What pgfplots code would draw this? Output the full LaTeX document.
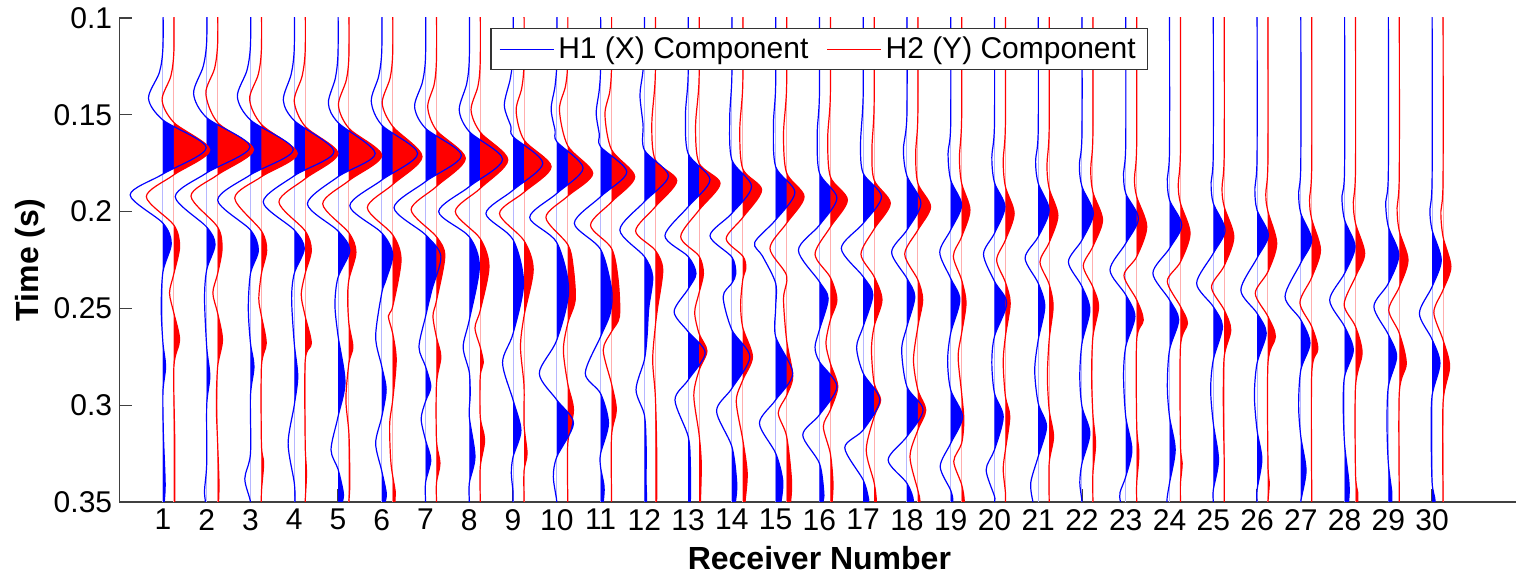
\documentclass[border=0pt]{standalone}
\usepackage{fontspec}
\setmainfont{Liberation Sans}
\usepackage{pgfplots}
\usepackage{pgfplotstable}
\pgfplotsset{compat=1.18}

% positive lobes filled, clipped to the right of the trace's zero line
\newcommand\wfill[3]{%
  \begin{scope}
    \clip (axis cs:#1,-0.05) rectangle (axis cs:40,-0.4);
    \addplot[draw=none, fill=#3, smooth, forget plot]
      table[x expr=\thisrow{a}+#1, y expr=-\thisrow{t}] {#2};
  \end{scope}}
\newcommand\wline[3]{%
  \addplot[#3, line width=0.6pt, smooth, forget plot]
    table[x expr=\thisrow{a}+#1, y expr=-\thisrow{t}] {#2};}

% ---------- H1 (blue) traces: amplitude a, time t ----------
\pgfplotstableread{
a t
0 0.09
0 0.115
-0.08 0.128
-0.33 0.1415
0 0.1527
0.99 0.1670
0 0.1806
-0.75 0.1914
0 0.2060
0.19 0.2164
0 0.2310
-0.04 0.2500
0 0.2680
0.06 0.2800
0 0.2930
0.01 0.3150
0.05 0.3400
0.03 0.3500
0 0.36
}\TBa
\pgfplotstableread{
a t
0 0.09
0 0.112
-0.08 0.125
-0.30 0.1390
0 0.1515
0.99 0.1665
0 0.1800
-0.72 0.1923
0 0.2080
0.19 0.2170
0 0.2300
-0.05 0.2450
0 0.2700
0.07 0.2850
0 0.3000
0 0.3300
-0.05 0.3440
-0.03 0.3500
0 0.36
}\TBb
\pgfplotstableread{
a t
0 0.09
0 0.114
-0.08 0.127
-0.30 0.1406
0 0.1527
0.98 0.1680
0 0.1810
-0.75 0.1940
0 0.2095
0.18 0.2200
0 0.2320
-0.05 0.2500
0 0.2680
0.08 0.2800
0 0.2950
0 0.3250
-0.13 0.3380
0 0.3500
0 0.36
}\TBc
\pgfplotstableread{
a t
0 0.09
0 0.116
-0.07 0.129
-0.25 0.1424
0 0.1530
0.91 0.1690
0 0.1815
-0.71 0.1950
0 0.2095
0.23 0.2190
0 0.2320
-0.06 0.2450
0 0.2680
0.08 0.2850
0 0.3000
-0.14 0.3198
0 0.3400
0.02 0.3500
0 0.36
}\TBd
\pgfplotstableread{
a t
0 0.09
0 0.118
-0.06 0.131
-0.22 0.1440
0 0.1540
0.85 0.1700
0 0.1820
-0.70 0.1960
0 0.2100
0.27 0.2200
0 0.2340
-0.07 0.2480
0 0.2640
0.16 0.2880
0 0.3060
-0.16 0.3230
0 0.3330
0.12 0.3450
0.10 0.3500
0 0.36
}\TBe
\pgfplotstableread{
a t
0 0.09
0 0.117
-0.07 0.130
-0.24 0.1430
0 0.1553
0.82 0.1700
0 0.1837
-0.73 0.1970
0 0.2110
0.25 0.2220
0.10 0.2350
0 0.2420
-0.14 0.2646
0 0.2800
0.10 0.2920
0 0.3060
-0.14 0.3197
0 0.3340
0.10 0.3450
0.08 0.3500
0 0.36
}\TBf
\pgfplotstableread{
a t
0 0.09
0 0.120
-0.07 0.133
-0.25 0.1458
0 0.1570
0.82 0.1710
0 0.1845
-0.72 0.1980
0 0.2120
0.35 0.2230
0.15 0.2400
0 0.2542
-0.15 0.2700
0 0.2800
0.12 0.2904
0 0.2980
-0.10 0.3070
0 0.3180
0.12 0.3283
0 0.3400
0 0.3500
0 0.36
}\TBg
\pgfplotstableread{
a t
0 0.09
0 0.121
-0.06 0.134
-0.23 0.1475
0 0.1587
0.76 0.1730
0 0.1871
-0.70 0.2000
0 0.2130
0.23 0.2284
0 0.2560
-0.14 0.2700
0 0.2830
0.02 0.2950
0 0.3060
0.13 0.3265
0 0.3403
0 0.3500
0 0.36
}\TBh
\pgfplotstableread{
a t
0 0.09
0 0.118
-0.06 0.131
-0.20 0.1450
-0.05 0.1560
0 0.1613
0.68 0.1750
0 0.1889
-0.62 0.2010
0 0.2145
0.24 0.2370
0 0.2630
-0.24 0.2780
0 0.2973
0.18 0.3130
0 0.3267
-0.04 0.3350
0 0.3450
0 0.3500
0 0.36
}\TBi
\pgfplotstableread{
a t
0 0.09
0 0.122
-0.04 0.135
-0.13 0.1470
-0.04 0.1580
0 0.1639
0.60 0.1775
0 0.1906
-0.62 0.2030
0 0.2160
0.27 0.2405
0 0.2663
-0.40 0.2835
0 0.2973
0.38 0.3093
0 0.3267
-0.08 0.3370
0 0.3500
0 0.36
}\TBj
\pgfplotstableread{
a t
0 0.09
0 0.125
-0.03 0.137
-0.10 0.1490
-0.03 0.1600
0 0.1665
0.60 0.1795
0 0.1923
-0.60 0.2060
0 0.2195
0.25 0.2400
0.22 0.2525
0 0.2646
-0.35 0.2835
0 0.2940
0.18 0.3093
0 0.3250
0 0.3320
0.08 0.3420
0.06 0.3500
0 0.36
}\TBk
\pgfplotstableread{
a t
0 0.09
0 0.118
-0.04 0.129
-0.10 0.1400
-0.03 0.1550
0 0.1682
0.55 0.1815
0 0.1949
-0.56 0.2095
0 0.2232
0.19 0.2336
0.10 0.2500
0.06 0.2650
0 0.2766
-0.19 0.2920
0 0.3050
0.04 0.3200
0.04 0.3400
0.05 0.3500
0 0.36
}\TBl
\pgfplotstableread{
a t
0 0.09
0 0.130
-0.06 0.150
0 0.1700
0.50 0.1835
0 0.1975
-0.53 0.2125
0 0.2232
0.18 0.2320
0 0.2400
-0.32 0.2517
0 0.2620
0.39 0.2730
0 0.2870
-0.30 0.2973
0 0.3160
0.05 0.3300
0.05 0.3500
0 0.36
}\TBm
\pgfplotstableread{
a t
0 0.09
0 0.130
-0.05 0.152
0 0.1733
0.45 0.1870
0 0.2009
-0.50 0.2125
0 0.2235
0.09 0.2320
0 0.2370
-0.20 0.2440
0 0.2611
0.41 0.2750
0 0.2913
-0.35 0.3030
0 0.3214
0.11 0.3400
0.08 0.3500
0 0.36
}\TBn
\pgfplotstableread{
a t
0 0.09
0 0.135
-0.05 0.155
0 0.1768
0.44 0.1900
0 0.2043
-0.48 0.2160
-0.30 0.2230
0 0.2370
0 0.2500
0 0.2646
0.39 0.2835
0 0.2973
-0.37 0.3093
0 0.3248
0.16 0.3386
0.12 0.3500
0 0.36
}\TBo
\pgfplotstableread{
a t
0 0.09
0 0.140
-0.05 0.160
0 0.1800
0.40 0.1930
0 0.2070
-0.48 0.2200
0 0.2362
0.20 0.2450
0 0.2611
-0.10 0.2700
0 0.2775
0.40 0.2904
0 0.3050
-0.38 0.3154
0 0.3300
0.10 0.3450
0.08 0.3500
0 0.36
}\TBp
\pgfplotstableread{
a t
0 0.09
0 0.140
-0.06 0.165
0 0.1802
0.42 0.1923
0 0.2061
-0.50 0.2190
0 0.2336
0.22 0.2430
0 0.2594
-0.15 0.2700
0 0.2835
0.38 0.2973
0 0.3128
-0.42 0.3220
0 0.3386
0.12 0.3480
0.11 0.3500
0 0.36
}\TBq
\pgfplotstableread{
a t
0 0.09
0 0.150
-0.08 0.168
0 0.1815
0.32 0.1957
0 0.2095
-0.35 0.2210
0 0.2345
0.18 0.2440
0 0.2594
-0.12 0.2715
0 0.2904
0.37 0.3024
0 0.3162
-0.43 0.3283
0 0.3403
0.15 0.3500
0 0.36
}\TBr
\pgfplotstableread{
a t
0 0.09
0 0.155
-0.06 0.170
0 0.1837
0.25 0.1966
0 0.2095
-0.25 0.2210
0 0.2345
0.21 0.2456
0 0.2628
-0.07 0.2770
0 0.2921
0.27 0.3060
0 0.3197
-0.24 0.3317
0 0.3440
0.05 0.3500
0 0.36
}\TBs
\pgfplotstableread{
a t
0 0.09
0 0.155
-0.06 0.172
0 0.1850
0.24 0.1975
0 0.2112
-0.25 0.2220
0 0.2360
0.28 0.2473
0 0.2645
-0.06 0.2780
0 0.2938
0.20 0.3060
0 0.3231
-0.19 0.3334
0 0.3470
0 0.3500
0 0.36
}\TBt
\pgfplotstableread{
a t
0 0.09
0 0.158
-0.06 0.174
0 0.1854
0.25 0.1992
0 0.2130
-0.30 0.2240
0 0.2370
0.15 0.2490
0 0.2663
-0.08 0.2820
0 0.2990
0.19 0.3110
0 0.3265
-0.17 0.3400
-0.12 0.3500
0 0.36
}\TBu
\pgfplotstableread{
a t
0 0.09
0 0.160
-0.06 0.176
0 0.1871
0.26 0.2009
0 0.2147
-0.31 0.2260
0 0.2387
0.18 0.2508
0 0.2680
-0.05 0.2850
0 0.3007
0.18 0.3145
0 0.3300
-0.05 0.3400
0 0.3500
0 0.36
}\TBv
\pgfplotstableread{
a t
0 0.09
0 0.165
-0.05 0.180
0 0.1906
0.29 0.2035
0 0.2164
-0.36 0.2301
0 0.2430
0.21 0.2542
0 0.2697
-0.05 0.2850
0 0.3059
0.14 0.3230
0 0.3369
-0.13 0.3450
-0.12 0.3500
0 0.36
}\TBw
\pgfplotstableread{
a t
0 0.09
0 0.168
-0.05 0.183
0 0.1940
0.28 0.2069
0 0.2190
-0.38 0.2318
0 0.2456
0.21 0.2559
0 0.2715
-0.05 0.2900
0 0.3059
0.13 0.3230
0 0.3403
-0.06 0.3500
0 0.36
}\TBx
\pgfplotstableread{
a t
0 0.09
0 0.170
-0.05 0.185
0 0.1957
0.27 0.2095
0 0.2216
-0.38 0.2370
0 0.2491
0.21 0.2594
0 0.2766
-0.06 0.2920
0 0.3093
0.12 0.3283
0 0.3438
0 0.3500
0 0.36
}\TBy
\pgfplotstableread{
a t
0 0.09
0 0.172
-0.05 0.188
0 0.1992
0.26 0.2121
0 0.2240
-0.37 0.2405
0 0.2525
0.21 0.2628
0 0.2783
-0.06 0.2950
0 0.3128
0.11 0.3280
0 0.3438
0 0.3500
0 0.36
}\TBz
\pgfplotstableread{
a t
0 0.09
0 0.175
-0.05 0.190
0 0.2009
0.25 0.2147
0 0.2265
-0.36 0.2439
0 0.2559
0.21 0.2680
0 0.2818
-0.05 0.3000
0 0.3162
0.12 0.3334
0.02 0.3472
0 0.3500
0 0.36
}\TBaa
\pgfplotstableread{
a t
0 0.09
0 0.178
-0.06 0.192
0 0.2043
0.24 0.2181
0 0.2319
-0.34 0.2457
0 0.2594
0.20 0.2715
0 0.2852
-0.03 0.3000
0 0.3200
0.10 0.3400
0.09 0.3500
0 0.36
}\TBab
\pgfplotstableread{
a t
0 0.09
0 0.180
-0.06 0.195
0 0.2078
0.24 0.2224
0 0.2371
-0.33 0.2491
0 0.2635
0.19 0.2749
0 0.2904
-0.03 0.3100
0 0.3300
0.08 0.3450
0.08 0.3500
0 0.36
}\TBac
\pgfplotstableread{
a t
0 0.09
0 0.183
-0.05 0.199
0 0.2095
0.21 0.2250
0 0.2388
-0.29 0.2526
0 0.2660
0.18 0.2784
0 0.2950
-0.02 0.3150
0 0.3400
0.07 0.3500
0 0.36
}\TBad

% ---------- H2 (red) traces ----------
\pgfplotstableread{
a t
0 0.09
0 0.117
-0.07 0.130
-0.27 0.1424
0 0.1540
0.82 0.1682
0 0.1810
-0.63 0.1923
0 0.2070
0.13 0.2180
0 0.2320
-0.10 0.2420
0 0.2525
0.13 0.2663
0 0.2800
0.02 0.3200
0.02 0.3500
0 0.36
}\TRa
\pgfplotstableread{
a t
0 0.09
0 0.113
-0.07 0.126
-0.27 0.1390
0 0.1540
0.82 0.1680
0 0.1810
-0.61 0.1920
0 0.2080
0.10 0.2190
0 0.2320
-0.11 0.2420
0 0.2525
0.11 0.2663
0 0.2800
-0.03 0.3000
0 0.3200
0.03 0.3400
0.02 0.3500
0 0.36
}\TRb
\pgfplotstableread{
a t
0 0.09
0 0.116
-0.07 0.129
-0.27 0.1420
0 0.1550
0.82 0.1700
0 0.1820
-0.61 0.1930
0 0.2100
0.12 0.2200
0 0.2320
-0.06 0.2450
0 0.2540
0.11 0.2680
0 0.2800
0 0.3200
0.05 0.3300
0 0.3450
0 0.36
}\TRc
\pgfplotstableread{
a t
0 0.09
0 0.117
-0.07 0.130
-0.25 0.1430
0 0.1560
0.75 0.1700
0 0.1830
-0.60 0.1950
0 0.2100
0.14 0.2200
0 0.2320
-0.09 0.2430
0 0.2540
0.14 0.2680
0 0.2770
0 0.3200
0.03 0.3350
0 0.3500
0 0.36
}\TRd
\pgfplotstableread{
a t
0 0.09
0 0.119
-0.06 0.132
-0.24 0.1450
0 0.1570
0.75 0.1710
0 0.1840
-0.60 0.1960
0 0.2110
0.16 0.2210
0 0.2350
-0.03 0.2450
0 0.2580
0.09 0.2700
0 0.2780
-0.07 0.2970
0 0.3150
0.02 0.3400
0 0.3500
0 0.36
}\TRe
\pgfplotstableread{
a t
0 0.09
0 0.118
-0.06 0.131
-0.24 0.1440
0 0.1560
0.67 0.1716
0 0.1860
-0.58 0.1980
0 0.2120
0.19 0.2250
0 0.2490
-0.10 0.2540
0 0.2630
0.08 0.2766
0 0.2973
-0.07 0.3100
-0.04 0.3300
0.06 0.3450
0.05 0.3500
0 0.36
}\TRf
\pgfplotstableread{
a t
0 0.09
0 0.121
-0.05 0.134
-0.20 0.1460
0 0.1580
0.66 0.1725
0 0.1870
-0.58 0.1990
0 0.2130
0.19 0.2230
0 0.2460
-0.08 0.2540
0 0.2650
0.10 0.2750
0 0.2890
0 0.3180
0.08 0.3300
0 0.3400
0 0.3500
0 0.36
}\TRg
\pgfplotstableread{
a t
0 0.09
0 0.122
-0.05 0.135
-0.21 0.1475
0 0.1590
0.63 0.1733
0 0.1880
-0.57 0.2000
0 0.2140
0.20 0.2284
0 0.2510
-0.12 0.2600
0 0.2700
0.07 0.2780
0 0.2850
0 0.3060
0.10 0.3180
0 0.3320
0 0.3500
0 0.36
}\TRh
\pgfplotstableread{
a t
0 0.09
0 0.123
-0.05 0.136
-0.18 0.1480
0 0.1630
0.62 0.1768
0 0.1900
-0.56 0.2010
0 0.2150
0.21 0.2300
0 0.2540
-0.08 0.2700
0 0.2900
0 0.3100
0.07 0.3250
0 0.3340
0 0.3500
0 0.36
}\TRi
\pgfplotstableread{
a t
0 0.09
0 0.122
-0.05 0.135
-0.19 0.1475
0 0.1660
0.57 0.1802
0 0.1920
-0.50 0.2030
0 0.2170
0.12 0.2280
0.17 0.2456
0 0.2577
-0.10 0.2715
0 0.2890
0.13 0.3025
0 0.3200
0 0.3500
0 0.36
}\TRj
\pgfplotstableread{
a t
0 0.09
0 0.125
-0.04 0.138
-0.15 0.1500
0 0.1680
0.53 0.1820
0 0.1950
-0.48 0.2070
0 0.2190
0.15 0.2350
0.18 0.2542
0 0.2620
-0.19 0.2715
0 0.2890
0.11 0.3025
0 0.3160
0 0.3500
0 0.36
}\TRk
\pgfplotstableread{
a t
0 0.09
0 0.130
-0.08 0.155
0 0.1733
0.49 0.1840
0 0.1975
-0.45 0.2100
0 0.2200
0.17 0.2300
0.05 0.2500
0 0.2594
-0.06 0.2766
0 0.2950
0.03 0.3200
0.03 0.3500
0 0.36
}\TRl
\pgfplotstableread{
a t
0 0.09
0 0.132
-0.08 0.156
0 0.1750
0.48 0.1854
0 0.1992
-0.42 0.2130
0 0.2230
0.10 0.2320
0 0.2420
-0.10 0.2520
0 0.2630
0.18 0.2720
0 0.2820
-0.12 0.2950
0 0.3150
0.05 0.3300
0.03 0.3500
0 0.36
}\TRm
\pgfplotstableread{
a t
0 0.09
0 0.134
-0.07 0.158
0 0.1780
0.43 0.1888
0 0.2030
-0.38 0.2140
0 0.2230
0.07 0.2290
0 0.2350
-0.05 0.2480
0 0.2600
0.22 0.2750
0 0.2870
-0.15 0.2980
0 0.3180
0.10 0.3350
0.05 0.3500
0 0.36
}\TRn
\pgfplotstableread{
a t
0 0.09
0 0.136
-0.07 0.160
0 0.1800
0.40 0.1923
0 0.2060
-0.38 0.2190
0 0.2330
-0.07 0.2450
0 0.2663
0.14 0.2850
0 0.2950
-0.19 0.3040
0 0.3160
0.11 0.3380
0.09 0.3500
0 0.36
}\TRo
\pgfplotstableread{
a t
0 0.09
0 0.140
-0.06 0.162
0 0.1820
0.39 0.1940
0 0.2080
-0.35 0.2220
0 0.2340
0.15 0.2456
0 0.2560
-0.10 0.2680
0 0.2784
0.17 0.2904
0 0.3025
-0.16 0.3110
0 0.3250
0.06 0.3400
0.04 0.3500
0 0.36
}\TRp
\pgfplotstableread{
a t
0 0.09
0 0.145
-0.05 0.168
0 0.1837
0.37 0.1957
0 0.2090
-0.30 0.2220
0 0.2336
0.18 0.2456
0 0.2594
-0.06 0.2715
0 0.2887
0.15 0.2973
0 0.3060
-0.18 0.3232
0 0.3400
0.05 0.3500
0 0.36
}\TRq
\pgfplotstableread{
a t
0 0.09
0 0.150
-0.05 0.170
0 0.1854
0.29 0.1975
0 0.2095
-0.30 0.2220
0 0.2353
0.11 0.2456
0 0.2594
-0.10 0.2766
0 0.2921
0.18 0.3025
0 0.3128
-0.18 0.3266
0 0.3440
0.05 0.3500
0 0.36
}\TRr
\pgfplotstableread{
a t
0 0.09
0 0.152
-0.05 0.172
0 0.1854
0.19 0.1992
0 0.2130
-0.19 0.2230
0 0.2353
0.10 0.2473
0 0.2628
-0.08 0.2750
0 0.2938
0.05 0.3076
0 0.3197
-0.18 0.3290
0 0.3410
0.06 0.3500
0 0.36
}\TRs
\pgfplotstableread{
a t
0 0.09
0 0.155
-0.05 0.174
0 0.1871
0.20 0.2009
0 0.2147
-0.20 0.2250
0 0.2365
0.11 0.2473
0 0.2645
-0.05 0.2780
0 0.2955
0.10 0.3059
0 0.3231
-0.05 0.3330
0 0.3450
0 0.3500
0 0.36
}\TRt
\pgfplotstableread{
a t
0 0.09
0 0.157
-0.05 0.176
0 0.1880
0.20 0.2020
0 0.2160
-0.21 0.2260
0 0.2375
0.09 0.2490
0 0.2663
-0.04 0.2850
0 0.3024
0.10 0.3162
0 0.3300
0 0.3500
0 0.36
}\TRu
\pgfplotstableread{
a t
0 0.09
0 0.160
-0.05 0.178
0 0.1900
0.22 0.2043
0 0.2180
-0.22 0.2280
0 0.2390
0.13 0.2490
0 0.2646
-0.03 0.2850
0 0.3050
0.06 0.3200
0 0.3350
0 0.3500
0 0.36
}\TRv
\pgfplotstableread{
a t
0 0.09
0 0.165
-0.05 0.183
0 0.1923
0.23 0.2078
0 0.2233
-0.29 0.2330
0 0.2456
0.15 0.2560
0 0.2663
0 0.3100
0.05 0.3250
0 0.3403
0 0.3500
0 0.36
}\TRw
\pgfplotstableread{
a t
0 0.09
0 0.168
-0.05 0.186
0 0.1957
0.22 0.2112
0 0.2260
-0.30 0.2360
0 0.2490
0.16 0.2577
0 0.2697
0 0.3197
0.04 0.3300
0 0.3403
0 0.3500
0 0.36
}\TRx
\pgfplotstableread{
a t
0 0.09
0 0.170
-0.05 0.188
0 0.1975
0.22 0.2130
0 0.2280
-0.29 0.2390
0 0.2508
0.15 0.2611
0 0.2749
-0.02 0.3000
0 0.3300
0 0.3500
0 0.36
}\TRy
\pgfplotstableread{
a t
0 0.09
0 0.173
-0.05 0.191
0 0.2000
0.20 0.2164
0 0.2310
-0.29 0.2422
0 0.2542
0.17 0.2646
0 0.2783
0 0.3300
0.03 0.3400
0 0.3500
0 0.36
}\TRz
\pgfplotstableread{
a t
0 0.09
0 0.176
-0.05 0.194
0 0.2040
0.20 0.2198
0 0.2340
-0.27 0.2470
0 0.2594
0.14 0.2710
0 0.2835
0 0.3500
0 0.36
}\TRaa
\pgfplotstableread{
a t
0 0.09
0 0.178
-0.05 0.195
0 0.2061
0.21 0.2216
0 0.2336
-0.26 0.2480
0 0.2594
0.15 0.2730
0 0.2904
0 0.3350
0.05 0.3450
0.05 0.3500
0 0.36
}\TRab
\pgfplotstableread{
a t
0 0.09
0 0.181
-0.05 0.198
0 0.2100
0.20 0.2250
0 0.2390
-0.24 0.2508
0 0.2628
0.16 0.2784
0 0.2938
0 0.3500
0 0.36
}\TRac
\pgfplotstableread{
a t
0 0.09
0 0.184
-0.05 0.200
0 0.2130
0.18 0.2284
0 0.2405
-0.21 0.2520
0 0.2663
0.15 0.2801
0 0.2990
0 0.3500
0 0.36
}\TRad

\begin{document}
\begin{tikzpicture}
\begin{axis}[
    scale only axis, width=700.2pt, height=242pt,
    xmin=0, xmax=32, ymin=-0.35, ymax=-0.1,
    axis lines*=left,
    axis line style={black!75, line width=0.7pt},
    xtick={1,...,30},
    ytick={-0.35,-0.3,-0.25,-0.2,-0.15,-0.1},
    yticklabels={0.35,0.3,0.25,0.2,0.15,0.1},
    tick align=inside, major tick length=6.5pt,
    tick style={black!75, line width=0.6pt},
    /pgf/number format/assume math mode=true,
    tick label style={font=\fontsize{15}{18}\selectfont},
    xlabel={Receiver Number}, ylabel={Time (s)},
    every axis x label/.style={at={(axis description cs:0.5,0)}, anchor=center, yshift=-28pt,
      font=\bfseries\fontsize{16}{19}\selectfont},
    every axis y label/.style={at={(axis description cs:0,0.5)}, anchor=center, rotate=90, yshift=44.5pt,
      font=\bfseries\fontsize{16}{19}\selectfont},
    legend columns=2,
    legend style={at={(0.5,0.979)}, anchor=north, draw=black!80, line width=0.6pt,
      font=\fontsize{15}{18}\selectfont, inner xsep=4pt, inner ysep=2pt,
      /tikz/every even column/.append style={column sep=7pt}},
    legend image code/.code={\draw[#1] (0pt,0pt) -- (27pt,0pt);},
  ]
  \coordinate (sw) at (axis cs:0,-0.35);
  \coordinate (ne) at (axis cs:32,-0.1);
  % zero lines of the traces
  \pgfplotsinvokeforeach{1,...,30}{
    \addplot[blue!18, line width=0.5pt, forget plot] coordinates {(#1,-0.1) (#1,-0.35)};
    \addplot[red!22, line width=0.5pt, forget plot] coordinates {(#1.25,-0.1) (#1.25,-0.35)};
  }
  % filled positive lobes
  \wfill{1}{\TBa}{blue}\wfill{2}{\TBb}{blue}\wfill{3}{\TBc}{blue}\wfill{4}{\TBd}{blue}
  \wfill{5}{\TBe}{blue}\wfill{6}{\TBf}{blue}\wfill{7}{\TBg}{blue}\wfill{8}{\TBh}{blue}
  \wfill{9}{\TBi}{blue}\wfill{10}{\TBj}{blue}\wfill{11}{\TBk}{blue}\wfill{12}{\TBl}{blue}
  \wfill{13}{\TBm}{blue}\wfill{14}{\TBn}{blue}\wfill{15}{\TBo}{blue}\wfill{16}{\TBp}{blue}
  \wfill{17}{\TBq}{blue}\wfill{18}{\TBr}{blue}\wfill{19}{\TBs}{blue}\wfill{20}{\TBt}{blue}
  \wfill{21}{\TBu}{blue}\wfill{22}{\TBv}{blue}\wfill{23}{\TBw}{blue}\wfill{24}{\TBx}{blue}
  \wfill{25}{\TBy}{blue}\wfill{26}{\TBz}{blue}\wfill{27}{\TBaa}{blue}\wfill{28}{\TBab}{blue}
  \wfill{29}{\TBac}{blue}\wfill{30}{\TBad}{blue}
  \wfill{1.25}{\TRa}{red}\wfill{2.25}{\TRb}{red}\wfill{3.25}{\TRc}{red}\wfill{4.25}{\TRd}{red}
  \wfill{5.25}{\TRe}{red}\wfill{6.25}{\TRf}{red}\wfill{7.25}{\TRg}{red}\wfill{8.25}{\TRh}{red}
  \wfill{9.25}{\TRi}{red}\wfill{10.25}{\TRj}{red}\wfill{11.25}{\TRk}{red}\wfill{12.25}{\TRl}{red}
  \wfill{13.25}{\TRm}{red}\wfill{14.25}{\TRn}{red}\wfill{15.25}{\TRo}{red}\wfill{16.25}{\TRp}{red}
  \wfill{17.25}{\TRq}{red}\wfill{18.25}{\TRr}{red}\wfill{19.25}{\TRs}{red}\wfill{20.25}{\TRt}{red}
  \wfill{21.25}{\TRu}{red}\wfill{22.25}{\TRv}{red}\wfill{23.25}{\TRw}{red}\wfill{24.25}{\TRx}{red}
  \wfill{25.25}{\TRy}{red}\wfill{26.25}{\TRz}{red}\wfill{27.25}{\TRaa}{red}\wfill{28.25}{\TRab}{red}
  \wfill{29.25}{\TRac}{red}\wfill{30.25}{\TRad}{red}
  % wiggle lines
  \wline{1.25}{\TRa}{red}\wline{2.25}{\TRb}{red}\wline{3.25}{\TRc}{red}\wline{4.25}{\TRd}{red}
  \wline{5.25}{\TRe}{red}\wline{6.25}{\TRf}{red}\wline{7.25}{\TRg}{red}\wline{8.25}{\TRh}{red}
  \wline{9.25}{\TRi}{red}\wline{10.25}{\TRj}{red}\wline{11.25}{\TRk}{red}\wline{12.25}{\TRl}{red}
  \wline{13.25}{\TRm}{red}\wline{14.25}{\TRn}{red}\wline{15.25}{\TRo}{red}\wline{16.25}{\TRp}{red}
  \wline{17.25}{\TRq}{red}\wline{18.25}{\TRr}{red}\wline{19.25}{\TRs}{red}\wline{20.25}{\TRt}{red}
  \wline{21.25}{\TRu}{red}\wline{22.25}{\TRv}{red}\wline{23.25}{\TRw}{red}\wline{24.25}{\TRx}{red}
  \wline{25.25}{\TRy}{red}\wline{26.25}{\TRz}{red}\wline{27.25}{\TRaa}{red}\wline{28.25}{\TRab}{red}
  \wline{29.25}{\TRac}{red}\wline{30.25}{\TRad}{red}
  \wline{1}{\TBa}{blue}\wline{2}{\TBb}{blue}\wline{3}{\TBc}{blue}\wline{4}{\TBd}{blue}
  \wline{5}{\TBe}{blue}\wline{6}{\TBf}{blue}\wline{7}{\TBg}{blue}\wline{8}{\TBh}{blue}
  \wline{9}{\TBi}{blue}\wline{10}{\TBj}{blue}\wline{11}{\TBk}{blue}\wline{12}{\TBl}{blue}
  \wline{13}{\TBm}{blue}\wline{14}{\TBn}{blue}\wline{15}{\TBo}{blue}\wline{16}{\TBp}{blue}
  \wline{17}{\TBq}{blue}\wline{18}{\TBr}{blue}\wline{19}{\TBs}{blue}\wline{20}{\TBt}{blue}
  \wline{21}{\TBu}{blue}\wline{22}{\TBv}{blue}\wline{23}{\TBw}{blue}\wline{24}{\TBx}{blue}
  \wline{25}{\TBy}{blue}\wline{26}{\TBz}{blue}\wline{27}{\TBaa}{blue}\wline{28}{\TBab}{blue}
  \wline{29}{\TBac}{blue}\wline{30}{\TBad}{blue}
  \addlegendimage{blue, line width=0.6pt}\addlegendentry{H1 (X) Component}
  \addlegendimage{red, line width=0.6pt}\addlegendentry{H2 (Y) Component}
\end{axis}
\pgfresetboundingbox
\path ([xshift=-59.6pt, yshift=-37pt]sw) rectangle ([xshift=-1.8pt, yshift=9pt]ne);
\end{tikzpicture}
\end{document}
